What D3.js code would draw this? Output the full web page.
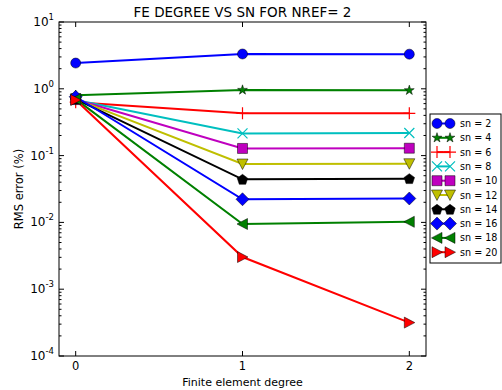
<!DOCTYPE html>
<html>
<head>
<meta charset="utf-8">
<script src="https://cdn.jsdelivr.net/npm/d3@7"></script>
<style>
  body { margin: 0; background: #fff; }
  text { font-family: "DejaVu Sans", sans-serif; fill: #000; }
</style>
</head>
<body>
<div id="chart"></div>
<script>

const FRAME_WIDTH = 502;
const FRAME_HEIGHT = 390;
const MARGINS = {left: 59, right: 76, top: 22, bottom: 34};

const VIS_WIDTH = FRAME_WIDTH - MARGINS.left - MARGINS.right;
const VIS_HEIGHT = FRAME_HEIGHT - MARGINS.top - MARGINS.bottom;

// data
const degrees = [0, 1, 2];
const snLabels = ["sn = 2", "sn = 4", "sn = 6", "sn = 8", "sn = 10",
                  "sn = 12", "sn = 14", "sn = 16", "sn = 18", "sn = 20"];
const sn2  = [2.43, 3.32, 3.30];
const sn4  = [0.80, 0.96, 0.95];
const sn6  = [0.63, 0.43, 0.43];
const sn8  = [0.68, 0.215, 0.218];
const sn10 = [0.69, 0.128, 0.129];
const sn12 = [0.70, 0.0748, 0.0755];
const sn14 = [0.70, 0.0441, 0.0452];
const sn16 = [0.76, 0.0222, 0.0228];
const sn18 = [0.70, 0.00946, 0.0102];
const sn20 = [0.68, 0.00303, 0.000316];
const allSeries = [sn2, sn4, sn6, sn8, sn10, sn12, sn14, sn16, sn18, sn20];
const yTickExps = [-4, -3, -2, -1, 0, 1];

const colors = ["#0000ff", "#008000", "#ff0000", "#00bfbf", "#bf00bf",
                "#bfbf00", "#000000", "#0000ff", "#008000", "#ff0000"];
const markers = ["o", "*", "+", "x", "s", "v", "p", "D", "<", ">"];

// marker path centred on 0,0
function markerPath(m) {
  const pts = (arr) => "M" + arr.map(p => p.join(",")).join("L") + "Z";
  switch (m) {
    case "o": return d3.symbol(d3.symbolCircle, Math.PI * 25)();
    case "*": return d3.symbol(d3.symbolStar, 30)();
    case "+": return "M-6,0L6,0M0,-6L0,6";
    case "x": return "M-5,-5L5,5M-5,5L5,-5";
    case "s": return "M-5,-5L5,-5L5,5L-5,5Z";
    case "v": return pts([[-5.5, -5], [5.5, -5], [0, 5.5]]);
    case "p": {
      const a = d3.range(5).map(i => {
        const t = -Math.PI / 2 + i * 2 * Math.PI / 5;
        return [5.5 * Math.cos(t), 5.5 * Math.sin(t) + 0.5];
      });
      return pts(a);
    }
    case "D": return pts([[0, -6.5], [6.5, 0], [0, 6.5], [-6.5, 0]]);
    case "<": return pts([[-5.5, 0], [5, -5.5], [5, 5.5]]);
    case ">": return pts([[5.5, 0], [-5, -5.5], [-5, 5.5]]);
  }
}
const openMarker = (m) => m === "+" || m === "x";

const svg = d3.select("#chart")
  .append("svg")
    .attr("width", FRAME_WIDTH)
    .attr("height", FRAME_HEIGHT);

const X_SCALE = d3.scaleLinear().domain([-0.1, 2.1]).range([0, VIS_WIDTH]);
const Y_SCALE = d3.scaleLog().domain([1e-4, 10]).range([VIS_HEIGHT, 0]);

const g = svg.append("g")
  .attr("transform", `translate(${MARGINS.left},${MARGINS.top})`);

// lines
const line = d3.line()
  .x((d, i) => X_SCALE(degrees[i]))
  .y(d => Y_SCALE(d));

allSeries.forEach((s, k) => {
  g.append("path")
    .datum(s)
    .attr("d", line)
    .attr("fill", "none")
    .attr("stroke", colors[k])
    .attr("stroke-width", 2);
});

allSeries.forEach((s, k) => {
  g.selectAll(null)
    .data(s)
    .enter()
    .append("path")
      .attr("d", markerPath(markers[k]))
      .attr("transform", (d, i) => `translate(${X_SCALE(degrees[i])},${Y_SCALE(d)})`)
      .attr("fill", openMarker(markers[k]) ? "none" : colors[k])
      .attr("stroke", openMarker(markers[k]) ? colors[k] : "#000")
      .attr("stroke-width", openMarker(markers[k]) ? 1.2 : 0.5);
});

// frame + ticks (inward, all four sides)
const minor = [];
for (let e = -4; e < 1; e++) for (let m = 2; m <= 9; m++) minor.push(m * Math.pow(10, e));

const ticks = g.append("g").attr("stroke", "#000").attr("stroke-width", 1);
yTickExps.forEach(e => {
  const y = Y_SCALE(Math.pow(10, e));
  ticks.append("line").attr("x1", 0).attr("x2", 5).attr("y1", y).attr("y2", y);
  ticks.append("line").attr("x1", VIS_WIDTH).attr("x2", VIS_WIDTH - 5).attr("y1", y).attr("y2", y);
});
minor.forEach(v => {
  const y = Y_SCALE(v);
  ticks.append("line").attr("x1", 0).attr("x2", 2.5).attr("y1", y).attr("y2", y);
  ticks.append("line").attr("x1", VIS_WIDTH).attr("x2", VIS_WIDTH - 2.5).attr("y1", y).attr("y2", y);
});
degrees.forEach(d => {
  const x = X_SCALE(d);
  ticks.append("line").attr("x1", x).attr("x2", x).attr("y1", VIS_HEIGHT).attr("y2", VIS_HEIGHT - 5);
  ticks.append("line").attr("x1", x).attr("x2", x).attr("y1", 0).attr("y2", 5);
});

g.append("rect")
  .attr("width", VIS_WIDTH).attr("height", VIS_HEIGHT)
  .attr("fill", "none").attr("stroke", "#000").attr("stroke-width", 1);

// tick labels
g.selectAll(".xlab")
  .data(degrees)
  .enter()
  .append("text")
    .attr("x", d => X_SCALE(d))
    .attr("y", VIS_HEIGHT + 14)
    .attr("text-anchor", "middle")
    .attr("font-size", 11.5)
    .text(d => d);

yTickExps.forEach(e => {
  const t = g.append("text")
    .attr("x", -5)
    .attr("y", Y_SCALE(Math.pow(10, e)) + 4)
    .attr("text-anchor", "end")
    .attr("font-size", 12);
  t.append("tspan").text("10");
  t.append("tspan").attr("dy", -6).attr("font-size", 8.5).text(e);
});

// titles
svg.append("text")
  .attr("x", MARGINS.left + VIS_WIDTH / 2)
  .attr("y", 17)
  .attr("text-anchor", "middle")
  .attr("font-size", 13.5)
  .text("FE DEGREE VS SN FOR NREF= 2");

svg.append("text")
  .attr("x", MARGINS.left + VIS_WIDTH / 2)
  .attr("y", 386)
  .attr("text-anchor", "middle")
  .attr("font-size", 11)
  .text("Finite element degree");

svg.append("text")
  .attr("transform", `translate(23,${MARGINS.top + VIS_HEIGHT / 2}) rotate(-90)`)
  .attr("text-anchor", "middle")
  .attr("font-size", 11.5)
  .text("RMS error (%)");

// legend
const LEG = {x: 430, y: 114, w: 71, h: 149, row: 14.3};
const leg = svg.append("g");
leg.append("rect")
  .attr("x", LEG.x).attr("y", LEG.y)
  .attr("width", LEG.w).attr("height", LEG.h)
  .attr("fill", "#fff").attr("stroke", "#000").attr("stroke-width", 1);

snLabels.forEach((lab, k) => {
  const y = LEG.y + 9.5 + k * LEG.row;
  leg.append("line")
    .attr("x1", 437).attr("x2", 450).attr("y1", y).attr("y2", y)
    .attr("stroke", colors[k]).attr("stroke-width", 2);
  [437, 450].forEach(x => {
    leg.append("path")
      .attr("d", markerPath(markers[k]))
      .attr("transform", `translate(${x},${y})`)
      .attr("fill", openMarker(markers[k]) ? "none" : colors[k])
      .attr("stroke", openMarker(markers[k]) ? colors[k] : "#000")
      .attr("stroke-width", openMarker(markers[k]) ? 1.2 : 0.5);
  });
  leg.append("text")
    .attr("x", 460).attr("y", y + 3.5)
    .attr("font-size", 9.6)
    .text(lab);
});

</script>
</body>
</html>
